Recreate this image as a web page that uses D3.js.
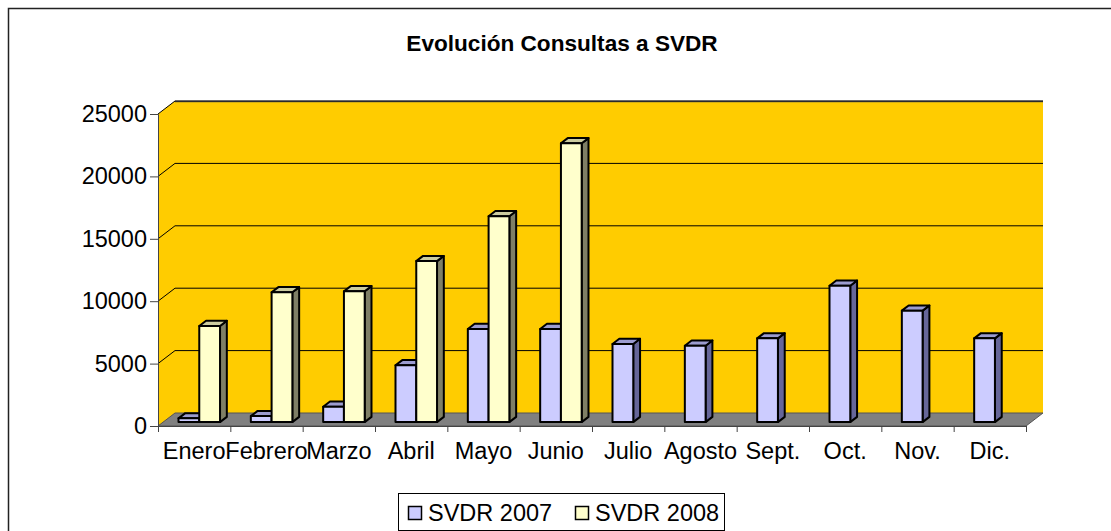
<!DOCTYPE html>
<html>
<head>
<meta charset="utf-8">
<script src="https://cdn.jsdelivr.net/npm/d3@7"></script>
<style>
  body { margin: 0; background: #fff; }
  text { font-family: "Liberation Sans", Arial, sans-serif; fill: #000; }
</style>
</head>
<body>
<div id="chart_area"></div>
<script>
// chart values
var months = ["Enero", "Febrero", "Marzo", "Abril", "Mayo", "Junio",
              "Julio", "Agosto", "Sept.", "Oct.", "Nov.", "Dic."];
var series = ["SVDR 2007", "SVDR 2008"];
var svdr2007 = [300, 480, 1230, 4550, 7460, 7460, 6260, 6120, 6710, 10930, 8930, 6710];
var svdr2008 = [7700, 10400, 10480, 12900, 16500, 22340, null, null, null, null, null, null];
var yTicks = [0, 5000, 10000, 15000, 20000, 25000];
var title = "Evolución Consultas a SVDR";

var frame_width = 1111;
var frame_height = 531;

var svg = d3.select("#chart_area").append("svg")
    .attr("width", frame_width)
    .attr("height", frame_height);

// outer chart border (runs off the right and bottom edge)
svg.append("rect")
    .attr("x", 8.5).attr("y", 8.5)
    .attr("width", 1110).attr("height", 530)
    .attr("fill", "#fff")
    .attr("stroke", "#222")
    .attr("stroke-width", 1.5);

// front plane and depth of the 3d box
var left = 158, right = 1026;
var depthX = 17, depthY = -13;

var xScale = d3.scaleBand()
    .domain(months)
    .range([left, right])
    .paddingInner(0.426)
    .paddingOuter(0.213);

var xSub = d3.scaleBand()
    .domain(series)
    .range([0, xScale.bandwidth()]);

var yScale = d3.scaleLinear()
    .domain([0, 25000])
    .range([426, 114]);

var face = {
  "SVDR 2007": {front: "#CCCCFF", top: "#9C9CD0", side: "#666699"},
  "SVDR 2008": {front: "#FFFFCC", top: "#CCCCA0", side: "#7F7F66"}
};
var colScale = d3.scaleOrdinal().domain(series).range(series.map(function(s){ return face[s].front; }));

var y0 = yScale(0), yTop = yScale(25000);

// side wall + back wall
svg.append("path")
    .attr("d", "M" + left + "," + yTop + "L" + (left + depthX) + "," + (yTop + depthY) +
               "L" + (right + depthX) + "," + (yTop + depthY) +
               "L" + (right + depthX) + "," + (y0 + depthY) +
               "L" + left + "," + y0 + "Z")
    .attr("fill", "#FFCC00")
    .attr("stroke", "none");
svg.append("line")
    .attr("x1", left + depthX).attr("x2", right + depthX)
    .attr("y1", yTop + depthY + 0.5).attr("y2", yTop + depthY + 0.5)
    .attr("stroke", "#555").attr("stroke-width", 1.5);

// gridlines
var grid = svg.append("g").attr("class", "grid");
grid.selectAll("path").data(yTicks.slice(1)).enter().append("path")
    .attr("d", function(d) {
      var y = yScale(d);
      return "M" + left + "," + y + "L" + (left + depthX) + "," + (y + depthY) +
             "L" + (right + depthX) + "," + (y + depthY);
    })
    .attr("fill", "none")
    .attr("stroke", "#000")
    .attr("stroke-width", 1);

// floor
svg.append("path")
    .attr("d", "M" + left + "," + y0 + "L" + (left + depthX) + "," + (y0 + depthY) +
               "L" + (right + depthX) + "," + (y0 + depthY) +
               "L" + right + "," + y0 + "Z")
    .attr("fill", "#808080")
    .attr("stroke", "#555")
    .attr("stroke-width", 1);

// bars
var f0 = 0.3, f1 = 0.7;
var bx = depthX * f0, by = depthY * f0;
var sx = depthX * (f1 - f0), sy = depthY * (f1 - f0);

var rows = [];
months.forEach(function(m, i) {
  [svdr2007[i], svdr2008[i]].forEach(function(v, j) {
    if (v != null) rows.push({month: m, series: series[j], value: v});
  });
});

var bars = svg.append("g").attr("class", "bars")
  .selectAll("g").data(rows).enter().append("g");

bars.each(function(d) {
  var g = d3.select(this);
  var x1 = xScale(d.month) + xSub(d.series) + bx;
  var w = xSub.bandwidth();
  var yb = yScale(0) + by;
  var yt = yScale(d.value) + by;
  var c = face[d.series];
  // side
  g.append("path")
    .attr("d", "M" + (x1 + w) + "," + yb + "L" + (x1 + w + sx) + "," + (yb + sy) +
               "L" + (x1 + w + sx) + "," + (yt + sy) + "L" + (x1 + w) + "," + yt + "Z")
    .attr("fill", c.side);
  // top
  g.append("path")
    .attr("d", "M" + x1 + "," + yt + "L" + (x1 + sx) + "," + (yt + sy) +
               "L" + (x1 + w + sx) + "," + (yt + sy) + "L" + (x1 + w) + "," + yt + "Z")
    .attr("fill", c.top);
  // front
  g.append("rect")
    .attr("x", x1).attr("y", yt)
    .attr("width", w).attr("height", yb - yt)
    .attr("fill", colScale(d.series));
  g.selectAll("path, rect")
    .attr("stroke", "#000")
    .attr("stroke-width", 2)
    .attr("stroke-linejoin", "round");
});

// y axis
var yAxis = d3.axisLeft(yScale).tickValues(yTicks).tickSize(8).tickPadding(3).tickFormat(d3.format("d"));
var yg = svg.append("g")
    .attr("transform", "translate(" + left + ",0)")
    .call(yAxis);
yg.selectAll("text").style("font-size", "23.5px");
yg.selectAll("path, line").attr("stroke", "#444");

// x axis: ticks at category boundaries, labels at centres
var idxScale = d3.scaleLinear().domain([0, months.length]).range([left, right]);
var xg = svg.append("g")
    .attr("transform", "translate(0," + y0 + ")")
    .call(d3.axisBottom(idxScale).tickValues(d3.range(months.length + 1)).tickSize(6).tickFormat(""));
xg.selectAll("path, line").attr("stroke", "#444");

svg.append("g").selectAll("text").data(months).enter().append("text")
    .attr("x", function(d) { return xScale(d) + xScale.bandwidth() / 2; })
    .attr("y", 459)
    .attr("text-anchor", "middle")
    .style("font-size", "23.5px")
    .text(function(d) { return d; });

// title
svg.append("text")
    .attr("x", 562).attr("y", 51)
    .attr("text-anchor", "middle")
    .style("font-size", "22.6px")
    .style("font-weight", "bold")
    .text(title);

// legend
var legend = svg.append("g");
legend.append("rect")
    .attr("x", 398.5).attr("y", 493.5)
    .attr("width", 326).attr("height", 37)
    .attr("fill", "#fff").attr("stroke", "#000").attr("stroke-width", 1);
var legX = [408, 575];
var items = legend.selectAll("g.item").data(series).enter().append("g")
    .attr("class", "item")
    .attr("transform", function(d, i) { return "translate(" + legX[i] + ",0)"; });
items.append("rect")
    .attr("x", 0.5).attr("y", 506.5)
    .attr("width", 13).attr("height", 13)
    .attr("fill", function(d) { return colScale(d); })
    .attr("stroke", "#000").attr("stroke-width", 1.5);
items.append("text")
    .attr("x", 20).attr("y", 521)
    .style("font-size", "23.5px")
    .text(function(d) { return d; });
</script>
</body>
</html>
